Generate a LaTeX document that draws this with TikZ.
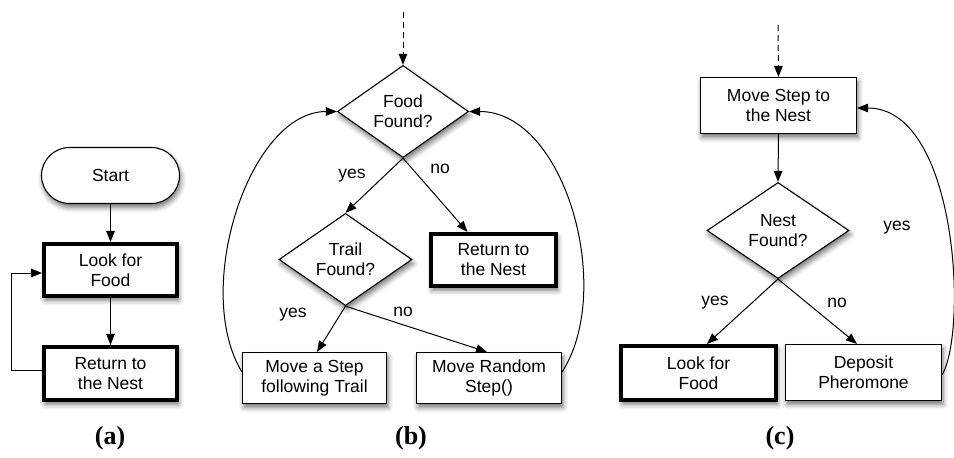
\documentclass[tikz,border=0pt]{standalone}
\usepackage{fontspec}
\setmainfont{Liberation Sans}
\newfontfamily\capfont{Liberation Serif}
\usetikzlibrary{arrows.meta,shapes.geometric,shadows.blur}
\begin{document}
\begin{tikzpicture}[x=1pt,y=-1pt,
  every node/.style={font=\fontsize{17.5}{20}\selectfont, align=center, inner sep=0pt},
  sh/.style={blur shadow={shadow xshift=1.5pt,shadow yshift=-4pt,shadow blur radius=5pt,shadow opacity=55}},
  box/.style={draw, rectangle, fill=white, line width=1.1pt, sh},
  tbox/.style={box, line width=3.6pt},
  dia/.style={draw, diamond, fill=white, line width=1.1pt, sh},
  arr/.style={-{Triangle[length=11pt,width=8.5pt]}, line width=1pt},
  dsh/.style={arr, dash pattern=on 6pt off 4pt},
  captext/.style={font=\capfont\bfseries\fontsize{26}{30}\selectfont}]
\useasboundingbox (0,0) rectangle (954,458);

% ---------- (a)
\node[box, rounded corners=28pt, minimum width=138pt, minimum height=56pt] (sa) at (110.5,175.5) {Start};
\node[tbox, minimum width=133.5pt, minimum height=52.5pt] (la) at (110.5,270) {Look for\\Food};
\node[tbox, minimum width=133.5pt, minimum height=53.5pt] (ra) at (110.5,373.5) {Return to\\the Nest};
\draw[arr] (sa) -- (la);
\draw[arr] (la) -- (ra);
\draw[arr] ([yshift=3.5pt]ra.west) -- ++(-30,0) |- ([yshift=-3pt]la.west);
\node[captext] (ca) at (110,438) {(a)};

% ---------- (b)
\coordinate (tb0) at (403,12);
\node[dia, minimum width=131pt, minimum height=89pt] (fb) at (403,111.5) {Food\\Found?};
\node[dia, minimum width=133pt, minimum height=91pt] (tb) at (345.5,259.5) {Trail\\Found?};
\node[tbox, minimum width=125.5pt, minimum height=52.5pt] (rb) at (493.5,260) {Return to\\the Nest};
\node[box, minimum width=144pt, minimum height=51pt] (mb) at (314.5,378) {Move a Step\\following Trail};
\node[box, minimum width=145pt, minimum height=51pt] (mr) at (489,378) {Move Random\\Step()};
\draw[dsh] (tb0) -- (fb.north);
\draw[arr] (fb.south) -- (tb.north);
\draw[arr] (fb.south) -- ([xshift=-26pt]rb.north);
\draw[arr] (tb.south) -- ([xshift=2.5pt]mb.north);
\draw[arr] (tb.south) -- ([xshift=-2pt]mr.north);
\draw[arr] ([yshift=6pt]mb.west) .. controls +(-50,-82) and +(-88,0) .. (fb.west);
\draw[arr] ([yshift=6pt]mr.east) .. controls +(53,-82) and +(96,0) .. (fb.east);
\node (yb1) at (352,176) {yes};
\node (nb1) at (440,169) {no};
\node (yb2) at (293,315) {yes};
\node (nb2) at (403,312) {no};
\node[captext] (cb) at (411,438) {(b)};

% ---------- (c)
\coordinate (tc0) at (778,25);
\node[box, minimum width=156pt, minimum height=56pt] (mc) at (778.5,105.5) {Move Step to\\the Nest};
\node[dia, minimum width=142pt, minimum height=96pt] (nc) at (778,230.5) {Nest\\Found?};
\node[tbox, minimum width=155.5pt, minimum height=54.5pt] (lc) at (698.5,373) {Look for\\Food};
\node[box, minimum width=156pt, minimum height=56pt] (dc) at (863.5,372.5) {Deposit\\Pheromone};
\draw[dsh] (tc0) -- (mc.north);
\draw[arr] (mc.south) -- (nc.north);
\draw[arr] (nc.south) -- ([xshift=8.5pt]lc.north);
\draw[arr] (nc.south) -- ([xshift=-6.5pt]dc.north);
\draw[arr] ([yshift=-2.5pt]dc.east) .. controls +(26,-45) and +(100,0) .. ([yshift=-2.5pt]mc.east);
\node (yc1) at (715,303) {yes};
\node (nc1) at (837,303) {no};
\node (yc2) at (897,228) {yes};
\node[captext] (cc) at (780,438) {(c)};
\end{tikzpicture}
\end{document}
